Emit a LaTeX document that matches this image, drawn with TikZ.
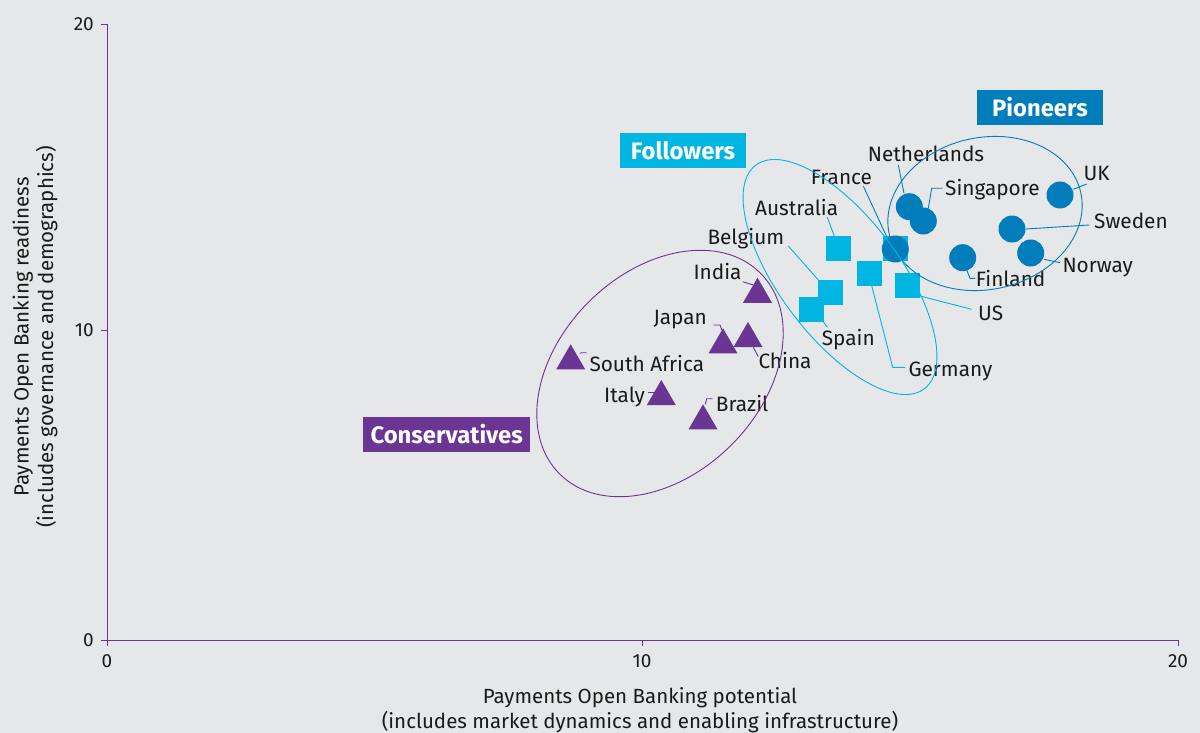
\documentclass[tikz,border=0pt]{standalone}
\usepackage{fontspec}
\setmainfont{Fira Sans}
\usetikzlibrary{shapes.geometric}
\definecolor{bgc}{HTML}{E6E7E8}
\definecolor{pion}{HTML}{007DBA}
\definecolor{foll}{HTML}{00B5E2}
\definecolor{cons}{HTML}{6A3593}
\definecolor{txt}{HTML}{1A1A1A}
\begin{document}
\begin{tikzpicture}[x=1pt,y=-1pt,
  lbl/.style={font=\fontsize{20.8}{24}\selectfont, text=txt, inner sep=0pt, anchor=base west},
  ticklbl/.style={font=\fontsize{19}{22}\selectfont, text=txt, inner sep=0pt},
  ttl/.style={font=\fontsize{20.5}{24.5}\selectfont, text=txt, inner sep=0pt, align=center},
  grp/.style={font=\fontsize{23.8}{28}\selectfont\bfseries, text=white, inner sep=0pt, minimum height=34.5pt},
  pdot/.style={circle, fill=pion, minimum size=27pt, inner sep=0pt},
  fsq/.style={rectangle, fill=foll, minimum size=25pt, inner sep=0pt},
  ctri/.style={regular polygon, regular polygon sides=3, fill=cons, minimum size=33.5pt, inner sep=0pt},
  plead/.style={draw=pion, line width=0.9pt},
  flead/.style={draw=foll, line width=0.9pt},
  clead/.style={draw=cons, line width=0.9pt},
  axis/.style={draw=cons, line width=0.9pt},
]
\fill[bgc] (0,0) rectangle (1200,733);
\useasboundingbox (0,0) rectangle (1200,733);

% axes
\coordinate (o) at (107,640);
\coordinate (ytop) at (107,24);
\coordinate (xend) at (1178,640);
\draw[axis] (ytop) -- (o) -- (xend);
\draw[axis] (101,24) -- (ytop);
\draw[axis] (101,330) -- (107,330);
\draw[axis] (101,640) -- (o);
\draw[axis] (o) -- (107,646);
\draw[axis] (642,640) -- (642,646);
\draw[axis] (xend) -- (1178,646);

\node[ticklbl, anchor=east] (y20) at (94,24) {20};
\node[ticklbl, anchor=east] (y10) at (94,330) {10};
\node[ticklbl, anchor=east] (y0) at (94,640) {0};
\node[ticklbl] (x0) at (107,661) {0};
\node[ticklbl] (x10) at (642,661) {10};
\node[ticklbl] (x20) at (1178,661) {20};

\node[ttl] (xt) at (640,710) {Payments Open Banking potential\\(includes market dynamics and enabling infrastructure)};
\node[ttl, rotate=90] (yt) at (35,337) {Payments Open Banking readiness\\(includes governance and demographics)};

% followers squares
\node[fsq] (sqau) at (838.3,248.3) {};
\node[fsq] (sqbe) at (830.3,292.3) {};
\node[fsq] (sqes) at (811.3,309.3) {};
\node[fsq] (sqde) at (869.3,273.3) {};
\node[fsq] (squs) at (907.3,285.3) {};
\node[fsq] (sqfr) at (895.7,248) {};

% pioneers circles
\node[pdot] (cnl) at (909.3,206.7) {};
\node[pdot] (csg) at (923.3,221) {};
\node[pdot] (cfr) at (895.3,249) {};
\node[pdot] (cfi) at (962.7,257.7) {};
\node[pdot] (cse) at (1012,229) {};
\node[pdot] (cno) at (1030.7,253) {};
\node[pdot] (cuk) at (1060,195) {};

% conservatives triangles
\node[ctri] (tin) at (757.5,294.4) {};
\node[ctri] (tjp) at (723,345) {};
\node[ctri] (tcn) at (748,338.7) {};
\node[ctri] (tza) at (570.7,361) {};
\node[ctri] (tit) at (661.3,396.7) {};
\node[ctri] (tbr) at (703,421) {};

% labels
\node[lbl] (lnl) at (867.7,161.7) {Netherlands};
\node[lbl] (lfr) at (810.7,185) {France};
\node[lbl] (lau) at (755,215.7) {Australia};
\node[lbl] (lbe) at (707.3,244) {Belgium};
\node[lbl] (lsg) at (945,195.7) {Singapore};
\node[lbl] (luk) at (1083.3,180.7) {UK};
\node[lbl] (lse) at (1094,229) {Sweden};
\node[lbl] (lno) at (1062.3,272.7) {Norway};
\node[lbl] (lfi) at (975.7,286.7) {Finland};
\node[lbl] (lus) at (978,320.7) {US};
\node[lbl] (les) at (821.7,345) {Spain};
\node[lbl] (lde) at (908.3,376.7) {Germany};
\node[lbl] (lcn) at (758.3,368.3) {China};
\node[lbl] (lin) at (693.3,279.3) {India};
\node[lbl] (ljp) at (653.3,324.3) {Japan};
\node[lbl] (lza) at (589.3,371) {South Africa};
\node[lbl] (lit) at (604,402.7) {Italy};
\node[lbl] (lbr) at (715.7,411) {Brazil};

% leader lines
\draw[plead] (898.3,165) -- (904,193.3);
\draw[plead] (928.3,208.3) -- (931.7,188.3) -- (942.7,188.3);
\draw[plead] (863.3,186) -- (886.7,236.7);
\draw[plead] (966.7,270) -- (970,278.3) -- (975,278.3);
\draw[plead] (1044,259.3) -- (1060,262.7);
\draw[plead] (1026,229) -- (1089.3,225);
\draw[plead] (1073.3,189.3) -- (1086.7,184);
\draw[flead] (827.3,217.3) -- (834.3,236);
\draw[flead] (788.3,246) -- (818.3,280);
\draw[flead] (827.3,327.3) -- (823.3,321.7);
\draw[flead] (871.7,285.7) -- (892.7,367.3) -- (905,367.3);
\draw[flead] (920,296) -- (971.7,309.3);
\draw[clead] (742.7,281.7) -- (753.3,285);
\draw[clead] (713.3,325) -- (720,325) -- (721.7,330);
\draw[clead] (753.3,347.3) -- (758.3,356.7);
\draw[clead] (580,353.3) -- (582,352.7) -- (586.7,352.7);
\draw[clead] (647.7,392.3) -- (655,392.3);
\draw[clead] (705.3,404.3) -- (706.7,398.7) -- (712.7,398.7);

% group ellipses
\draw[draw=pion, line width=0.9pt, rotate around={12:(985,213.5)}] (985,213.5) ellipse [x radius=98, y radius=76];
\draw[draw=foll, line width=0.9pt, rotate around={-53:(840,277)}] (840,277) ellipse [x radius=140, y radius=60];
\draw[draw=cons, line width=0.9pt, rotate around={45:(660,373.5)}] (660,373.5) ellipse [x radius=142, y radius=101];

% group labels
\node[grp, fill=pion, minimum width=126pt] (gp) at (1040,107.4) {Pioneers};
\node[grp, fill=foll, minimum width=126pt] (gf) at (683,150.5) {Followers};
\node[grp, fill=cons, minimum width=167pt] (gc) at (446.7,434.5) {Conservatives};
\end{tikzpicture}
\end{document}
